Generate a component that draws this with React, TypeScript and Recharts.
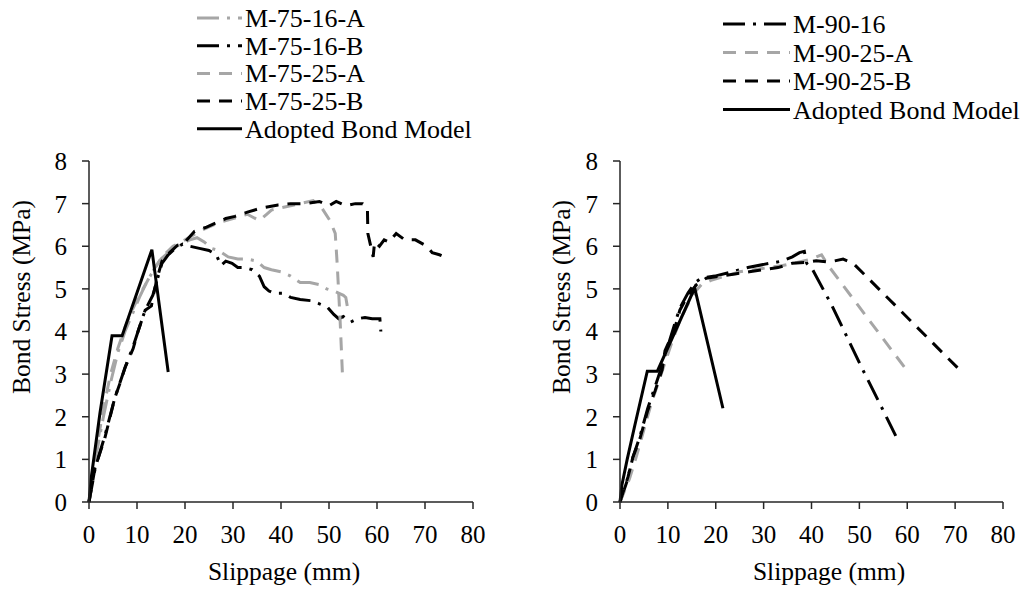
import { Line, LineChart, XAxis, YAxis } from 'recharts';

/* Bond stress vs slippage — two panels, Excel-style greyscale lines. */

const FONT = 'Liberation Serif';
const GRAY = '#a6a6a6';
const INK = '#000000';
const DASH = '13 9';
const DASH_DOT = '22 8 3 8';

const X_TICKS = [0, 10, 20, 30, 40, 50, 60, 70, 80];
const Y_TICKS = [0, 1, 2, 3, 4, 5, 6, 7, 8];

type Pt = [number, number];

// ---- left panel (M-75) ----
const M75_16_A: Pt[] = [
  [0, 0], [1.5, 1.1], [3, 2.0], [4.5, 2.8], [6, 3.5], [7.5, 4.0], [9, 4.4], [10.5, 4.8],
  [12, 5.15], [13.5, 5.45], [15, 5.7], [17, 5.9], [19, 6.05], [21, 6.15], [22.5, 6.2],
  [24, 6.1], [25.5, 5.95], [27, 5.9], [29, 5.75], [31, 5.7], [33, 5.7], [35, 5.65],
  [36.5, 5.5], [38, 5.45], [40, 5.4], [42, 5.3], [44, 5.15], [46, 5.15], [48, 5.1],
  [49.5, 5.0], [51, 4.95], [52, 4.9], [53, 4.85], [53.5, 4.8], [53.8, 4.6],
];
const M75_16_B: Pt[] = [
  [0, 0], [1.3, 0.8], [3.3, 1.55], [5.4, 2.45], [7.5, 3.15], [9.2, 3.65], [10.5, 4.1],
  [11.7, 4.5], [13.3, 4.85], [14.3, 5.25], [15.2, 5.6], [16.5, 5.8], [18, 5.95],
  [19.5, 6.05], [21, 6.0], [23, 5.95], [25, 5.9], [26.5, 5.8], [27.5, 5.55], [28.5, 5.65],
  [29.8, 5.6], [31, 5.5], [32.5, 5.5], [34, 5.45], [35.5, 5.3], [36.5, 5.05], [37.5, 4.95],
  [38.5, 4.9], [40.5, 4.9], [42, 4.8], [44, 4.75], [46.5, 4.72], [48, 4.65], [49.6, 4.58],
  [51, 4.4], [52, 4.3], [53, 4.35], [54.5, 4.22], [56, 4.3], [57.5, 4.33], [59, 4.3],
  [60.6, 4.3], [60.8, 4.0],
];
const M75_25_A: Pt[] = [
  [0, 0], [1.5, 1.2], [3, 2.2], [4.5, 3.0], [6, 3.6], [7.5, 4.1], [9, 4.5], [10.5, 4.85],
  [12, 5.15], [13.2, 5.4], [15.2, 5.75], [17.5, 6.0], [20, 6.15], [23, 6.35], [26.9, 6.55],
  [30, 6.65], [33, 6.75], [35.5, 6.6], [37, 6.75], [38, 6.85], [40, 6.9], [42, 6.95],
  [44, 7.0], [46.7, 7.07], [48.5, 6.9], [50.2, 6.6], [51.3, 6.3], [51.7, 5.6], [52.3, 4.3],
  [52.8, 3.0],
];
const M75_25_B: Pt[] = [
  [0, 0], [1.25, 0.8], [3.3, 1.5], [5.4, 2.45], [6.5, 2.8], [7.5, 3.15], [9.2, 3.6],
  [10.2, 4.0], [11.7, 4.5], [13, 4.6], [13.5, 4.9], [14.2, 5.25], [15.2, 5.65], [16.8, 5.85],
  [18.5, 6.03], [20, 6.1], [22, 6.35], [24.5, 6.45], [26.9, 6.57], [28.5, 6.65], [30.4, 6.7],
  [33, 6.8], [36, 6.9], [39.4, 6.97], [42, 7.0], [45, 7.0], [48, 7.05], [50, 6.95],
  [51.5, 7.05], [53.5, 6.95], [55.5, 7.0], [57, 7.0], [58, 6.9], [58.1, 6.3], [59.2, 5.75],
  [59.5, 6.1], [60.5, 6.0], [61.5, 6.15], [62.5, 6.1], [64, 6.3], [65.8, 6.15], [68, 6.15],
  [70.4, 6.0], [71.5, 5.85], [73, 5.8], [74, 5.75], [74.6, 5.7],
];
const MODEL_75: Pt[] = [
  [0, 0], [0.5, 0.6], [2.3, 2.1], [4.8, 3.9], [6.9, 3.9], [13.1, 5.92], [16.5, 3.05],
];

// ---- right panel (M-90) ----
const M90_16: Pt[] = [
  [0, 0], [1.5, 0.5], [2.7, 1.05], [4.2, 1.55], [5.8, 2.2], [7.3, 2.7], [8.8, 3.2],
  [10.4, 3.8], [11.5, 4.2], [12.5, 4.55], [14.2, 4.9], [15.7, 5.15], [17, 5.25], [19.8, 5.3],
  [23.4, 5.4], [26.7, 5.5], [30.3, 5.58], [33.8, 5.65], [36, 5.75], [37.5, 5.85],
  [38.5, 5.88], [39, 5.6], [40, 5.5], [44.3, 4.6], [50.5, 3.15], [54.3, 2.3], [57.6, 1.55],
];
const M90_25_A: Pt[] = [
  [0, 0], [2, 0.55], [3.5, 1.1], [5, 1.7], [6.5, 2.3], [8, 2.8], [9.5, 3.3], [11, 3.8],
  [12.5, 4.25], [14, 4.6], [15.5, 4.9], [17, 5.1], [19, 5.2], [22, 5.3], [25, 5.4],
  [28, 5.45], [31, 5.5], [34, 5.55], [37, 5.62], [40, 5.7], [42.1, 5.8], [43.4, 5.56],
  [59.5, 3.15],
];
const M90_25_B: Pt[] = [
  [0, 0], [1.7, 0.6], [2.7, 1.05], [4.2, 1.5], [5.8, 2.15], [7.3, 2.6], [8.8, 3.1],
  [9.4, 3.55], [10.4, 3.8], [11.5, 4.1], [12.5, 4.5], [14.2, 4.85], [16, 5.1], [18, 5.25],
  [21, 5.3], [24, 5.35], [27, 5.4], [30, 5.45], [33, 5.5], [36, 5.6], [39, 5.62], [41, 5.66],
  [43.8, 5.63], [46.6, 5.7], [48.7, 5.6], [70.5, 3.15],
];
const MODEL_90: Pt[] = [
  [0, 0], [0.4, 0.4], [1.5, 1.0], [3.1, 1.8], [5.7, 3.07], [7.8, 3.07], [15.6, 5.02],
  [21.5, 2.2],
];

interface Series {
  name: string;
  pts: Pt[];
  color: string;
  dash?: string;
}

const LEFT: Series[] = [
  { name: 'M-75-16-A', pts: M75_16_A, color: GRAY, dash: DASH_DOT },
  { name: 'M-75-16-B', pts: M75_16_B, color: INK, dash: DASH_DOT },
  { name: 'M-75-25-A', pts: M75_25_A, color: GRAY, dash: DASH },
  { name: 'M-75-25-B', pts: M75_25_B, color: INK, dash: DASH },
  { name: 'Adopted Bond Model', pts: MODEL_75, color: INK },
];

const RIGHT: Series[] = [
  { name: 'M-90-16', pts: M90_16, color: INK, dash: DASH_DOT },
  { name: 'M-90-25-A', pts: M90_25_A, color: GRAY, dash: DASH },
  { name: 'M-90-25-B', pts: M90_25_B, color: INK, dash: DASH },
  { name: 'Adopted Bond Model', pts: MODEL_90, color: INK },
];

const TICK = { fill: '#000', fontSize: 25, fontFamily: FONT };
const AXIS_LINE = { stroke: '#262626', strokeWidth: 1.5 };

function Panel({ series, left, width, yWidth }: { series: Series[]; left: number; width: number; yWidth: number }) {
  return (
    <div style={{ position: 'absolute', left, top: 140 }}>
      <LineChart width={width} height={452} margin={{ top: 21, right: width - 473, bottom: 0, left: 0 }}>
        <XAxis
          type="number"
          dataKey="x"
          domain={[0, 80]}
          ticks={X_TICKS}
          height={90}
          tickSize={7}
          tickMargin={16}
          tick={TICK}
          axisLine={AXIS_LINE}
          tickLine={AXIS_LINE}
          allowDuplicatedCategory={false}
        />
        <YAxis
          type="number"
          domain={[0, 8]}
          ticks={Y_TICKS}
          width={yWidth}
          tickSize={7}
          tickMargin={15}
          tick={TICK}
          axisLine={AXIS_LINE}
          tickLine={AXIS_LINE}
        />
        {series.map((s) => (
          <Line
            key={s.name}
            data={s.pts.map(([x, y]) => ({ x, y }))}
            dataKey="y"
            name={s.name}
            type="linear"
            stroke={s.color}
            strokeWidth={3}
            strokeDasharray={s.dash}
            dot={false}
            activeDot={false}
            isAnimationActive={false}
          />
        ))}
      </LineChart>
    </div>
  );
}

function LegendRows({ series, x1, x2, cy, gap }: { series: Series[]; x1: number; x2: number; cy: number; gap: number }) {
  return (
    <>
      {series.map((s, i) => {
        const y = cy + i * gap;
        return (
          <g key={s.name}>
            <line x1={x1} x2={x2} y1={y} y2={y} stroke={s.color} strokeWidth={3} strokeDasharray={s.dash} />
            <text x={x2 + 3} y={y + 9} fontFamily={FONT} fontSize={26} fill="#000">
              {s.name}
            </text>
          </g>
        );
      })}
    </>
  );
}

function Title({ x, y, rotate, children }: { x: number; y: number; rotate?: boolean; children: string }) {
  return (
    <text
      transform={`translate(${x} ${y})${rotate ? ' rotate(-90)' : ''}`}
      textAnchor="middle"
      fontFamily={FONT}
      fontSize={25.5}
      fill="#000"
    >
      {children}
    </text>
  );
}

export default function App() {
  return (
    <div style={{ position: 'absolute', left: 0, top: 0, width: 1028, height: 592, background: '#fff', overflow: 'hidden' }}>
      <Panel series={LEFT} left={0} width={500} yWidth={89} />
      <Panel series={RIGHT} left={530} width={498} yWidth={90} />
      <svg width={1028} height={592} style={{ position: 'absolute', left: 0, top: 0, pointerEvents: 'none' }}>
        <LegendRows series={LEFT} x1={197} x2={242} cy={18} gap={27.7} />
        <LegendRows series={RIGHT} x1={723} x2={790} cy={24} gap={28.5} />
        <Title x={284} y={580}>Slippage (mm)</Title>
        <Title x={829} y={580}>Slippage (mm)</Title>
        <Title x={30} y={297} rotate>Bond Stress (MPa)</Title>
        <Title x={570} y={297} rotate>Bond Stress (MPa)</Title>
      </svg>
    </div>
  );
}
